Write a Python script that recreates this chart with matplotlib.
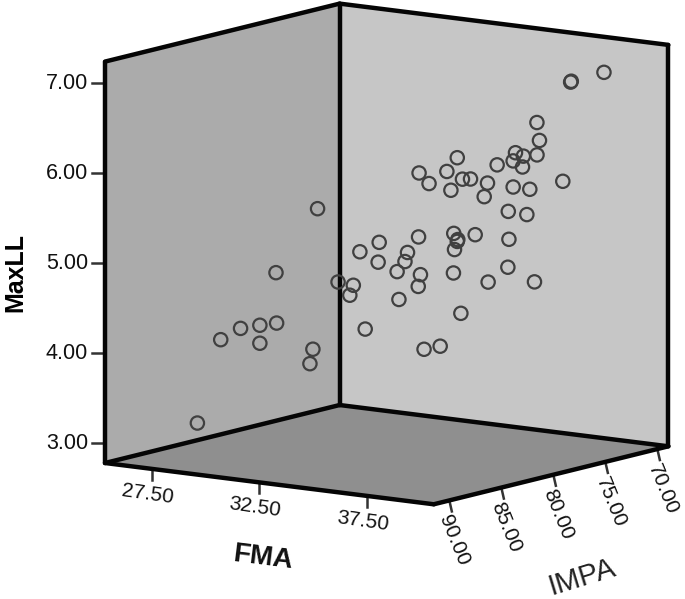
import numpy as np
import matplotlib
matplotlib.use("Agg")
import matplotlib.pyplot as plt

plt.rcParams['font.family'] = ['Liberation Sans', 'DejaVu Sans']

# values
fma = [39.25, 38.32, 38.34, 37.38, 37.45, 37.38, 36.78, 37.00, 36.72, 36.98, 36.27,
       35.16, 34.87, 34.09, 34.37, 35.30, 35.53, 36.00, 34.98, 35.91, 36.72, 37.18,
       38.10, 36.58, 37.10, 34.08, 32.98, 32.44, 32.95, 33.77, 33.70, 33.48, 34.13,
       34.07, 33.53, 35.06, 35.16, 35.17, 35.08, 35.66, 36.60, 36.57, 35.05, 36.02,
       37.31, 35.26, 32.59, 34.23, 34.68, 31.83, 32.26, 32.16, 31.26, 30.10, 30.12,
       29.65, 29.11, 28.56, 29.65, 31.13, 31.05, 27.91]
impa = [72.30, 73.58, 73.56, 74.88, 74.78, 74.87, 75.70, 75.40, 75.80, 75.44, 76.41,
        77.95, 78.35, 79.41, 79.03, 77.74, 77.44, 76.78, 78.19, 76.91, 75.80, 75.15,
        73.88, 75.98, 75.27, 79.44, 80.95, 81.69, 80.99, 79.86, 79.96, 80.26, 79.36,
        79.45, 80.19, 78.08, 77.95, 77.92, 78.05, 77.26, 75.96, 76.00, 78.09, 76.76,
        74.97, 77.81, 81.49, 79.22, 78.60, 82.53, 81.95, 82.08, 83.32, 84.92, 84.90,
        85.54, 86.28, 87.05, 85.54, 83.50, 83.62, 87.95]
maxll = [6.99, 6.89, 6.90, 6.45, 6.25, 6.09, 6.12, 6.08, 6.03, 5.96, 5.99,
         6.08, 5.93, 5.92, 5.80, 5.84, 5.84, 5.79, 5.72, 5.64, 5.74, 5.71,
         5.79, 5.47, 5.43, 5.21, 5.16, 5.06, 4.94, 5.04, 4.94, 4.83, 4.79,
         4.66, 4.52, 5.24, 5.15, 5.17, 5.06, 5.22, 5.16, 4.85, 4.80, 4.69,
         4.68, 4.35, 4.20, 3.96, 3.99, 4.73, 4.69, 4.58, 5.55, 4.85, 4.29,
         4.27, 4.24, 4.12, 4.07, 3.99, 3.83, 3.20]

fma_ticks = [27.5, 32.5, 37.5]
impa_ticks = [90, 85, 80, 75, 70]
maxll_ticks = [3, 4, 5, 6, 7]

# axis ranges of the box
fma_lim = (25.33, 40.62)
impa_lim = (68.94, 91.5)
maxll_lim = (2.78, 7.24)


def project(f, i, m):  # oblique projection of the box onto the page, in pixels
    f = np.asarray(f, dtype=float)
    i = np.asarray(i, dtype=float)
    m = np.asarray(m, dtype=float)
    x = 105 + 21.5 * (f - fma_lim[0]) + 10.4 * (impa_lim[1] - i)
    y = 463 + 2.7 * (f - fma_lim[0]) - 2.57 * (impa_lim[1] - i) - 90 * (m - maxll_lim[0])
    return x, y


def face(corners, color):
    xs, ys = zip(*[project(*c) for c in corners])
    ax.fill(xs, ys, color=color, lw=0, zorder=1)


def edge(a, b):
    xa, ya = project(*a)
    xb, yb = project(*b)
    ax.plot([xa, xb], [ya, yb], color='#050505', lw=3.2, solid_capstyle='round', zorder=3)


fig = plt.figure(figsize=(6.85, 5.99), dpi=100)
ax = fig.add_axes([0, 0, 1, 1])
ax.set_xlim(0, 685)
ax.set_ylim(599, 0)
ax.axis('off')

f0, f1 = fma_lim
i0, i1 = impa_lim
m0, m1 = maxll_lim

## WALLS AND FLOOR
face([(f0, i1, m0), (f0, i0, m0), (f0, i0, m1), (f0, i1, m1)], '#ababab')
face([(f0, i0, m0), (f1, i0, m0), (f1, i0, m1), (f0, i0, m1)], '#c6c6c6')
face([(f0, i1, m0), (f0, i0, m0), (f1, i0, m0), (f1, i1, m0)], '#8f8f8f')

edge((f0, i1, m0), (f0, i1, m1))
edge((f0, i0, m0), (f0, i0, m1))
edge((f1, i0, m0), (f1, i0, m1))
edge((f0, i1, m1), (f0, i0, m1))
edge((f0, i0, m1), (f1, i0, m1))
edge((f0, i1, m0), (f0, i0, m0))
edge((f0, i0, m0), (f1, i0, m0))
edge((f0, i1, m0), (f1, i1, m0))
edge((f1, i1, m0), (f1, i0, m0))

## TICKS
for m in maxll_ticks:
    x, y = project(f0, i1, m)
    ax.plot([x - 13, x - 2], [y, y], color='#333333', lw=1.8, zorder=2)
    ax.text(x - 17, y, f"{m:.2f}", ha='right', va='center', fontsize=15.5, color='#111111')

for f in fma_ticks:
    x, y = project(f, i1, m0)
    ax.plot([x, x], [y, y + 11], color='#333333', lw=1.8, zorder=2)
    ax.text(x - 4, y + 25, f"{f:.2f}", ha='center', va='center', rotation=-8,
            fontsize=15, color='#111111')

for i in impa_ticks:
    x, y = project(f1, i, m0)
    ax.plot([x, x + 2.5], [y, y + 11], color='#333333', lw=1.8, zorder=2)
    ax.text(x + 5, y + 40, f"{i:.2f}", ha='center', va='center', rotation=-68,
            fontsize=15, color='#111111')

## LABELS
ax.text(15, 272, "MaxLL", rotation=90, ha='center', va='center', fontsize=18, fontweight='bold')
ax.text(263, 558, "FMA", rotation=-7, ha='center', va='center', fontsize=20, fontweight='bold',
        color='#111111')
ax.text(582, 577, "IMPA", rotation=17, ha='center', va='center', fontsize=21, color='#222222')

## POINTS
px, py = project(fma, impa, maxll)
ax.scatter(px, py, s=92, facecolors='none', edgecolors='#404040', linewidths=1.6, zorder=4)

plt.savefig('out.png', dpi=100)
